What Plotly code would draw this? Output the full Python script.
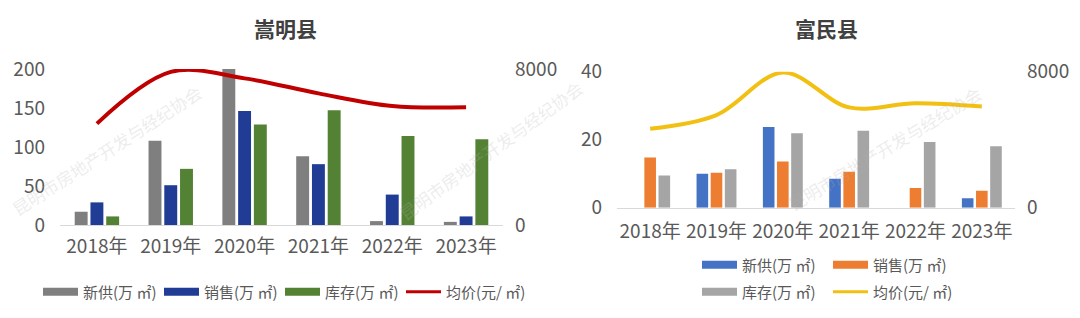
import plotly.graph_objects as go

years = ["2018年", "2019年", "2020年", "2021年", "2022年", "2023年"]

# 嵩明县
sm_supply = [17, 108, 200, 88, 5, 4]
sm_sales = [29, 51, 146, 78, 39, 11]
sm_stock = [11, 72, 129, 147, 114, 110]
sm_price = [5200, 7850, 7520, 6750, 6100, 6040]

# 富民县
fm_supply = [0, 10.0, 23.7, 8.5, 0, 2.8]
fm_sales = [14.8, 10.3, 13.6, 10.6, 5.8, 5.0]
fm_stock = [9.5, 11.3, 21.9, 22.6, 19.3, 18.1]
fm_price = [4650, 5450, 7950, 5900, 6150, 5950]

names = ["新供(万 ㎡)", "销售(万 ㎡)", "库存(万 ㎡)", "均价(元/ ㎡)"]

FONT = "Noto Sans CJK SC"
TXT = "#595959"
W, H = 1080, 318

sm_colors = ["#7f7f7f", "#203c94", "#548235", "#c00000"]
fm_colors = ["#4472c4", "#ed7d31", "#a5a5a5", "#f2c012"]

fig = go.Figure()

# left chart bars
for vals, c in zip([sm_supply, sm_sales, sm_stock], sm_colors[:3]):
    fig.add_trace(go.Bar(x=years, y=vals, marker=dict(color=c, line=dict(width=0)),
                         xaxis="x", yaxis="y", showlegend=False))
fig.add_trace(go.Scatter(x=years, y=sm_price, mode="lines",
                         line=dict(color=sm_colors[3], width=4, shape="spline", smoothing=1.0),
                         xaxis="x", yaxis="y2", showlegend=False))

# right chart bars
for vals, c in zip([fm_supply, fm_sales, fm_stock], fm_colors[:3]):
    fig.add_trace(go.Bar(x=years, y=vals, marker=dict(color=c, line=dict(width=0)),
                         xaxis="x2", yaxis="y3", showlegend=False))
fig.add_trace(go.Scatter(x=years, y=fm_price, mode="lines",
                         line=dict(color=fm_colors[3], width=4, shape="spline", smoothing=1.0),
                         xaxis="x2", yaxis="y4", showlegend=False))

# legend proxies (wide rectangles like the original)
for i, (n, c) in enumerate(zip(names, sm_colors)):
    fig.add_trace(go.Scatter(x=[None], y=[None], mode="lines", name=n,
                             line=dict(color=c, width=8 if i < 3 else 3),
                             legendwidth=71 if i < 3 else 100,
                             xaxis="x", yaxis="y", legend="legend"))
for i, (n, c) in enumerate(zip(names, fm_colors)):
    fig.add_trace(go.Scatter(x=[None], y=[None], mode="lines", name=n,
                             line=dict(color=c, width=8 if i < 3 else 3),
                             legendwidth=81 if i % 2 == 0 else 100,
                             xaxis="x2", yaxis="y3",
                             legend="legend2" if i < 2 else "legend3"))

tickf = dict(family=FONT, size=19, color=TXT)

def yaxis_common(**kw):
    d = dict(showgrid=False, zeroline=False, showline=False, ticks="",
             tickfont=tickf, fixedrange=True, automargin=False)
    d.update(kw)
    return d

sm_dom_x = [60 / W, 503 / W]
sm_dom_y = [(H - 225) / H, (H - 69) / H]
fm_dom_x = [617 / W, 1015 / W]
fm_dom_y = [(H - 207.7) / H, (H - 71.7) / H]

legfont = dict(family=FONT, size=15, color=TXT)
legbase = dict(orientation="h", xanchor="left", yanchor="middle", font=legfont,
               itemwidth=35, bgcolor="rgba(0,0,0,0)")

fig.update_layout(
    width=W, height=H,
    margin=dict(l=0, r=0, t=0, b=0, autoexpand=False),
    paper_bgcolor="white", plot_bgcolor="white",
    barmode="group", bargap=0.36, bargroupgap=0.18,
    font=dict(family=FONT, color=TXT),
    xaxis=dict(domain=sm_dom_x, anchor="y", showgrid=False, showline=True,
               linecolor="#d9d9d9", linewidth=1, ticks="", tickfont=tickf,
               ticklabelstandoff=4, automargin=False),
    yaxis=yaxis_common(domain=sm_dom_y, anchor="x", range=[0, 200], dtick=50,
                       ticklabelstandoff=14),
    yaxis2=yaxis_common(overlaying="y", side="right", anchor="x", range=[0, 8000],
                        tickvals=[0, 8000], ticklabelstandoff=11),
    xaxis2=dict(domain=fm_dom_x, anchor="y3", showgrid=False, showline=True,
                linecolor="#d9d9d9", linewidth=1, ticks="", tickfont=tickf,
                ticklabelstandoff=6, automargin=False),
    yaxis3=yaxis_common(domain=fm_dom_y, anchor="x2", range=[0, 40], dtick=20,
                        ticklabelstandoff=14),
    yaxis4=yaxis_common(overlaying="y3", side="right", anchor="x2", range=[0, 8000],
                        tickvals=[0, 8000], ticklabelstandoff=11),
    legend=dict(legbase, x=38 / W, y=(H - 292) / H),
    legend2=dict(legbase, x=697 / W, y=(H - 265) / H),
    legend3=dict(legbase, x=697 / W, y=(H - 292) / H),
)

# titles
for txt, cx in [("嵩明县", 285), ("富民县", 826)]:
    fig.add_annotation(text=f"<b>{txt}</b>", x=cx / W, y=(H - 28) / H, xref="paper",
                       yref="paper", showarrow=False, xanchor="center", yanchor="middle",
                       font=dict(family=FONT, size=21, color="#404040"))

# faint watermarks
wm = "昆明市房地产开发与经纪协会"
for cx, cy, ang in [(106, 150, -33), (490, 150, -36), (884, 148, -31)]:
    fig.add_annotation(text=wm, x=cx / W, y=(H - cy) / H, xref="paper", yref="paper",
                       showarrow=False, textangle=ang, xanchor="center", yanchor="middle",
                       font=dict(family=FONT, size=17, color="rgba(180,180,180,0.25)"))

fig.write_html("out.html")
